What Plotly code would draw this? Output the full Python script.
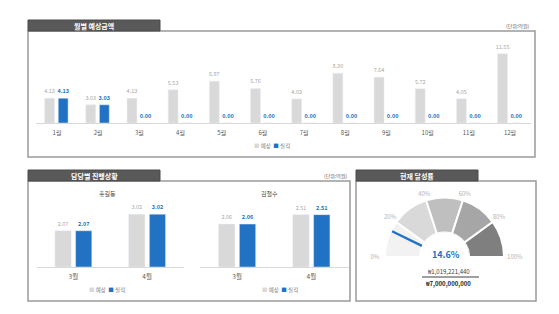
import plotly.graph_objects as go

# ---------------- data ----------------
months = ["1월", "2월", "3월", "4월", "5월", "6월", "7월", "8월", "9월", "10월", "11월", "12월"]
monthly_forecast = [4.13, 3.03, 4.13, 5.53, 6.97, 5.76, 4.02, 8.30, 7.64, 5.72, 4.05, 11.55]
monthly_actual = [4.13, 3.03, 0.00, 0.00, 0.00, 0.00, 0.00, 0.00, 0.00, 0.00, 0.00, 0.00]

rep_months = ["3월", "4월"]
hong_name = "홍길동"
hong_forecast = [2.07, 3.02]
hong_actual = [2.07, 3.02]
kim_name = "김철수"
kim_forecast = [2.06, 2.51]
kim_actual = [2.06, 2.51]

series_names = ["예상", "실적"]
gauge_edges = [0, 20, 40, 60, 80, 100]
gauge_labels = ["0%", "20%", "40%", "60%", "80%", "100%"]
achieved = 1019221440
target = 7000000000
pct = achieved / target * 100

# ---------------- style ----------------
W, H = 559, 314
GRAY = "#d9d9d9"
BLUE = "#2272c3"
DARK = "#595959"
BORDER = "#9a9a9a"
FONT = "Noto Sans CJK KR, sans-serif"


def px(x):
    return x / W


def py(y):
    return 1 - y / H


fig = go.Figure()


def bar_pair(xs, fc, ac, xa, ya, w, off_f, off_a):
    fig.add_trace(go.Bar(x=xs, y=fc, name=series_names[0], marker=dict(color=GRAY),
                         width=w, offset=off_f, texttemplate="%{y:.2f}", textposition="outside",
                         textfont=dict(size=5.5, color="#a6a6a6"), constraintext="none", cliponaxis=False,
                         xaxis=xa, yaxis=ya))
    fig.add_trace(go.Bar(x=xs, y=ac, name=series_names[1], marker=dict(color=BLUE),
                         width=w, offset=off_a, texttemplate="<b>%{y:.2f}</b>", textposition="outside",
                         textfont=dict(size=5.5, color=BLUE), constraintext="none", cliponaxis=False,
                         xaxis=xa, yaxis=ya))


bar_pair(months, monthly_forecast, monthly_actual, "x", "y", 0.24, -0.30, 0.03)
bar_pair(rep_months, hong_forecast, hong_actual, "x2", "y2", 0.22, -0.25, 0.03)
bar_pair(rep_months, kim_forecast, kim_actual, "x3", "y3", 0.22, -0.25, 0.03)

# ---- gauge ----
band_colors = ["#f2f2f2", "#d9d9d9", "#bfbfbf", "#a6a6a6", "#7f7f7f"]
theta_scale = 180 / 100
band_theta = [(a + b) / 2 * theta_scale for a, b in zip(gauge_edges[:-1], gauge_edges[1:])]
band_width = [(b - a) * theta_scale for a, b in zip(gauge_edges[:-1], gauge_edges[1:])]
fig.add_trace(go.Barpolar(r=[1] * len(band_theta), theta=band_theta, width=band_width,
                          marker=dict(color=band_colors, line=dict(color="white", width=2)),
                          subplot="polar", hoverinfo="skip"))
fig.add_trace(go.Scatterpolar(r=[0.02, 0.97], theta=[pct * theta_scale] * 2, mode="lines",
                              line=dict(color=BLUE, width=2.3), subplot="polar", hoverinfo="skip"))
# gauge scale labels, placed just outside the ring
fig.add_trace(go.Scatterpolar(r=[1.29, 1.22, 1.17, 1.17, 1.22, 1.31],
                              theta=[e * theta_scale for e in gauge_edges], text=gauge_labels,
                              mode="text", textfont=dict(size=6, color="#b3b3b3"),
                              textposition="middle center", cliponaxis=False,
                              subplot="polar", hoverinfo="skip"))

# gauge geometry: centre (444.5, 257) px, ring 24.5..59.5 px, radial range 0..1.35
R_OUT = 24.5 + 35 * 1.35
axis_common = dict(showgrid=False, zeroline=False, fixedrange=True)
fig.update_layout(
    width=W, height=H,
    margin=dict(l=0, r=0, t=0, b=0),
    paper_bgcolor="white", plot_bgcolor="rgba(0,0,0,0)",
    font=dict(family=FONT, color=DARK),
    barmode="overlay", showlegend=False,
    xaxis=dict(domain=[px(36.4), px(530.6)], showline=True, linecolor=GRAY, linewidth=1,
               tickfont=dict(size=6, color=DARK), ticks="", ticklabelstandoff=4, **axis_common),
    yaxis=dict(domain=[py(123), py(39)], range=[0, 14], visible=False, **axis_common),
    xaxis2=dict(domain=[px(36.5), px(184)], showline=True, linecolor=GRAY, linewidth=1,
                tickfont=dict(size=6.5, color=DARK), ticks="", ticklabelstandoff=3, anchor="y2", **axis_common),
    yaxis2=dict(domain=[py(267), py(194)], range=[0, 4.17], visible=False, anchor="x2", **axis_common),
    xaxis3=dict(domain=[px(200), px(348.5)], showline=True, linecolor=GRAY, linewidth=1,
                tickfont=dict(size=6.5, color=DARK), ticks="", ticklabelstandoff=3, anchor="y3", **axis_common),
    yaxis3=dict(domain=[py(267), py(194)], range=[0, 3.5], visible=False, anchor="x3", **axis_common),
    polar=dict(
        domain=dict(x=[px(444.5 - R_OUT), px(444.5 + R_OUT)], y=[py(257), py(257 - R_OUT)]),
        sector=[0, 180], hole=24.5 / R_OUT, bgcolor="rgba(0,0,0,0)",
        radialaxis=dict(visible=False, range=[0, 1.35]),
        angularaxis=dict(direction="clockwise", rotation=180, showgrid=False, showline=False,
                         ticks="", showticklabels=False),
    ),
)

shapes = []
ann = []


def note(text, x, y, size, color, xanchor="center"):
    ann.append(dict(text=text, x=px(x), y=py(y), xref="paper", yref="paper", xanchor=xanchor,
                    yanchor="middle", showarrow=False, font=dict(size=size, color=color)))


def panel(x0, x1, tab_x1, tab_y0, y_top, y_bot, title):
    shapes.append(dict(type="rect", xref="paper", yref="paper", x0=px(x0), x1=px(x1), y0=py(y_bot), y1=py(y_top),
                       line=dict(color=BORDER, width=1.5), fillcolor="rgba(0,0,0,0)", layer="below"))
    shapes.append(dict(type="rect", xref="paper", yref="paper", x0=px(x0), x1=px(tab_x1), y0=py(y_top), y1=py(tab_y0),
                       line=dict(color="#4a4a4a", width=1), fillcolor="#595959", layer="below"))
    note(f"<b>{title}</b>", (x0 + tab_x1) / 2, (tab_y0 + y_top) / 2, 7, "white")


panel(28, 535, 160, 20, 31, 157, "월별 예상금액")
panel(28, 350, 160, 170, 181, 301, "담당별 진행상황")
panel(356, 536, 478, 170, 181, 301, "현재 달성률")

unit_text = "(단위:억원)"
note(unit_text, 531, 26, 5, DARK, xanchor="right")
note(unit_text, 349, 176, 5, DARK, xanchor="right")

note(hong_name, 107, 193, 6, "#404040")
note(kim_name, 269, 193, 6, "#404040")

legend_text = (f'<span style="color:{GRAY}">■</span> {series_names[0]}  '
               f'<span style="color:{BLUE}">■</span> {series_names[1]}')
for lx, ly in [(272, 146), (107, 290), (280, 290)]:
    note(legend_text, lx, ly, 5.5, "#7f7f7f")

# gauge texts
note(f"<b>{pct:.1f}%</b>", 446, 254, 9, BLUE)
note(f"₩{achieved:,}", 448, 271.5, 6, "#404040")
note(f"<b>₩{target:,}</b>", 448, 283, 6, "#262626")
shapes.append(dict(type="line", xref="paper", yref="paper", x0=px(422), x1=px(479), y0=py(277), y1=py(277),
                   line=dict(color="#404040", width=1)))

fig.update_layout(shapes=shapes, annotations=ann)
fig.write_html("out.html")
